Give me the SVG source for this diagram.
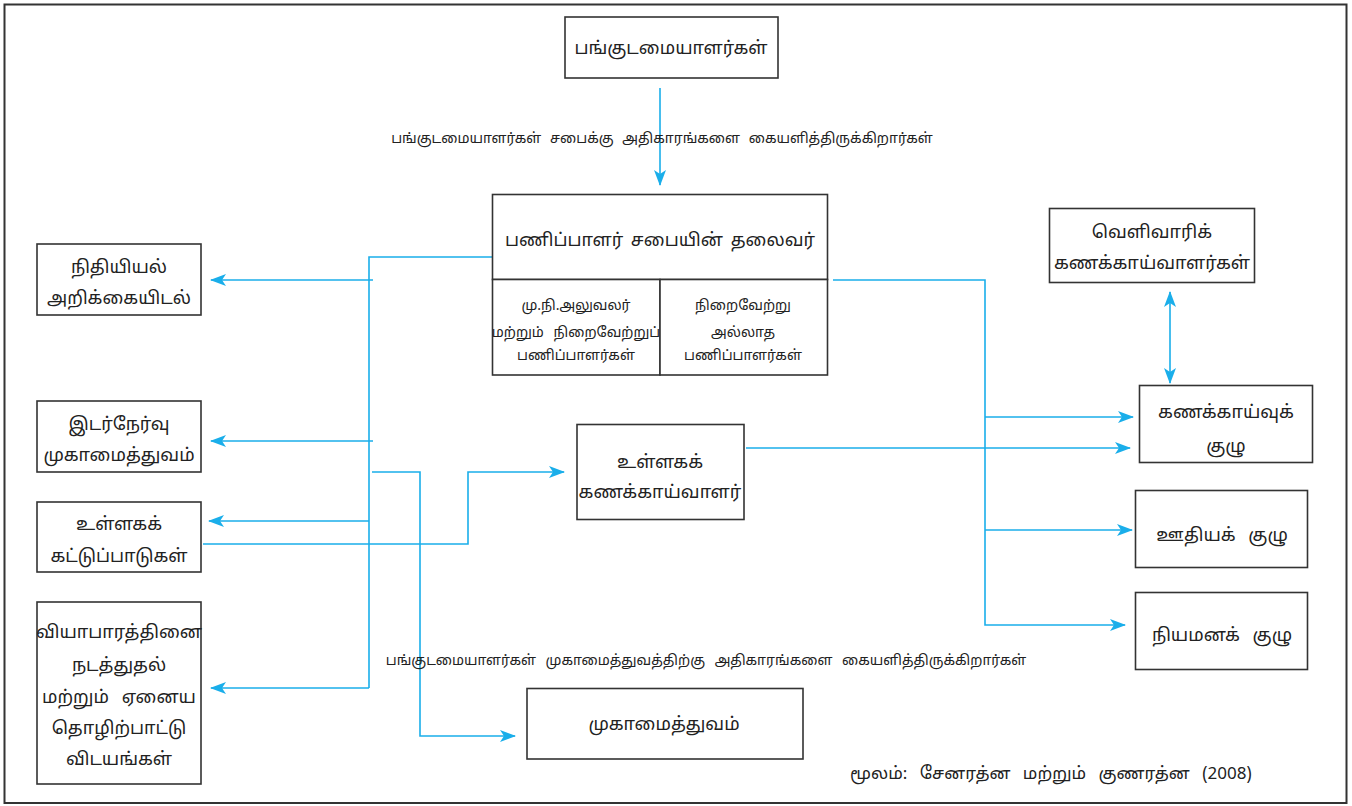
<svg xmlns="http://www.w3.org/2000/svg" width="1352" height="806" viewBox="0 0 1352 806">
<style>
.box{fill:#fff;stroke:#333;stroke-width:1.6}
.t{font-family:"Noto Sans Tamil","Noto Sans","DejaVu Sans",sans-serif;fill:#222;text-anchor:middle}
.b{font-size:18px}
.s{font-size:14px}
.c{fill:none;stroke:#1aaeea;stroke-width:1.6}
</style>
<defs>
<marker id="ah" viewBox="0 0 16 12" refX="15" refY="6" markerWidth="16" markerHeight="12" markerUnits="userSpaceOnUse" orient="auto-start-reverse">
<path d="M0,0 L16,6 L0,12 L4,6 Z" fill="#1aaeea"/>
</marker>
</defs>
<rect x="4.5" y="4.5" width="1342" height="798.5" fill="#fff" stroke="#333" stroke-width="2"/>

<g id="connectors">
<line class="c" x1="660" y1="88" x2="660" y2="185" marker-end="url(#ah)"/>
<polyline class="c" points="492,257 369,257 369,688"/>
<line class="c" x1="373" y1="280" x2="211" y2="280" marker-end="url(#ah)"/>
<line class="c" x1="373" y1="441" x2="211" y2="441" marker-end="url(#ah)"/>
<line class="c" x1="369" y1="521" x2="209" y2="521" marker-end="url(#ah)"/>
<line class="c" x1="369" y1="688" x2="211" y2="688" marker-end="url(#ah)"/>
<polyline class="c" points="372,472 420,472 420,736 515,736" marker-end="url(#ah)"/>
<polyline class="c" points="203,544 468,544 468,472 564,472" marker-end="url(#ah)"/>
<polyline class="c" points="833,280 985,280 985,625 1125,625" marker-end="url(#ah)"/>
<line class="c" x1="985" y1="417" x2="1133" y2="417" marker-end="url(#ah)"/>
<line class="c" x1="985" y1="530" x2="1132" y2="530" marker-end="url(#ah)"/>
<line class="c" x1="746" y1="448" x2="1130" y2="448" marker-end="url(#ah)"/>
<line class="c" x1="1170" y1="292" x2="1170" y2="383" marker-start="url(#ah)" marker-end="url(#ah)"/>
</g>

<g id="label-board">
<text class="t s" x="662" y="143" style="word-spacing:5px">பங்குடமையாளர்கள் சபைக்கு அதிகாரங்களை கையளித்திருக்கிறார்கள்</text>
</g>
<g id="label-mgmt">
<text class="t s" x="706" y="665" style="word-spacing:6px">பங்குடமையாளர்கள் முகாமைத்துவத்திற்கு அதிகாரங்களை கையளித்திருக்கிறார்கள்</text>
</g>

<g id="shareholders">
<rect class="box" x="565" y="17" width="213" height="61"/>
<text class="t b" x="671" y="54">பங்குடமையாளர்கள்</text>
</g>

<g id="board">
<rect class="box" x="492.5" y="194.5" width="335" height="85"/>
<text class="t b" x="660" y="246" style="word-spacing:3px">பணிப்பாளர் சபையின் தலைவர்</text>
</g>
<g id="exec-directors">
<rect class="box" x="492.5" y="279.5" width="167.5" height="95.5"/>
<text class="t s" x="576" y="310">மு.நி.அலுவலர்</text>
<text class="t s" x="576" y="337" style="word-spacing:6px">மற்றும் நிறைவேற்றுப்</text>
<text class="t s" x="576" y="360">பணிப்பாளர்கள்</text>
</g>
<g id="nonexec-directors">
<rect class="box" x="660" y="279.5" width="167.5" height="95.5"/>
<text class="t s" x="743" y="310">நிறைவேற்று</text>
<text class="t s" x="743" y="337">அல்லாத</text>
<text class="t s" x="743" y="360">பணிப்பாளர்கள்</text>
</g>

<g id="financial-reporting">
<rect class="box" x="37" y="244" width="164" height="71"/>
<text class="t b" x="119" y="273">நிதியியல்</text>
<text class="t b" x="119" y="304">அறிக்கையிடல்</text>
</g>
<g id="risk-management">
<rect class="box" x="37" y="401" width="164" height="71"/>
<text class="t b" x="119" y="430">இடர்நேர்வு</text>
<text class="t b" x="119" y="461">முகாமைத்துவம்</text>
</g>
<g id="internal-controls">
<rect class="box" x="37" y="502" width="164" height="70"/>
<text class="t b" x="119" y="530">உள்ளகக்</text>
<text class="t b" x="119" y="562">கட்டுப்பாடுகள்</text>
</g>
<g id="business-conduct">
<rect class="box" x="37" y="602" width="164" height="182"/>
<text class="t b" x="119" y="638">வியாபாரத்தினை</text>
<text class="t b" x="119" y="671">நடத்துதல்</text>
<text class="t b" x="119" y="703" style="word-spacing:8px">மற்றும் ஏனைய</text>
<text class="t b" x="119" y="734">தொழிற்பாட்டு</text>
<text class="t b" x="119" y="765">விடயங்கள்</text>
</g>

<g id="internal-auditor">
<rect class="box" x="577" y="424.5" width="167" height="95"/>
<text class="t b" x="660" y="468">உள்ளகக்</text>
<text class="t b" x="660" y="498">கணக்காய்வாளர்</text>
</g>

<g id="management">
<rect class="box" x="527" y="688.5" width="276" height="70.5"/>
<text class="t b" x="664" y="730">முகாமைத்துவம்</text>
</g>

<g id="external-auditors">
<rect class="box" x="1049.5" y="208.5" width="205" height="74"/>
<text class="t b" x="1152" y="238">வெளிவாரிக்</text>
<text class="t b" x="1152" y="269">கணக்காய்வாளர்கள்</text>
</g>
<g id="audit-committee">
<rect class="box" x="1139.5" y="385.5" width="173" height="77"/>
<text class="t b" x="1226" y="418">கணக்காய்வுக்</text>
<text class="t b" x="1226" y="452">குழு</text>
</g>
<g id="remuneration-committee">
<rect class="box" x="1135.5" y="490.5" width="172" height="77"/>
<text class="t b" x="1222" y="541" style="word-spacing:8px">ஊதியக் குழு</text>
</g>
<g id="nomination-committee">
<rect class="box" x="1135.5" y="592.5" width="172" height="77"/>
<text class="t b" x="1222" y="641" style="word-spacing:8px">நியமனக் குழு</text>
</g>

<g id="source">
<text class="t" style="font-size:17px;word-spacing:8px" x="1051" y="779">மூலம்: சேனரத்ன மற்றும் குணரத்ன (2008)</text>
</g>
</svg>
